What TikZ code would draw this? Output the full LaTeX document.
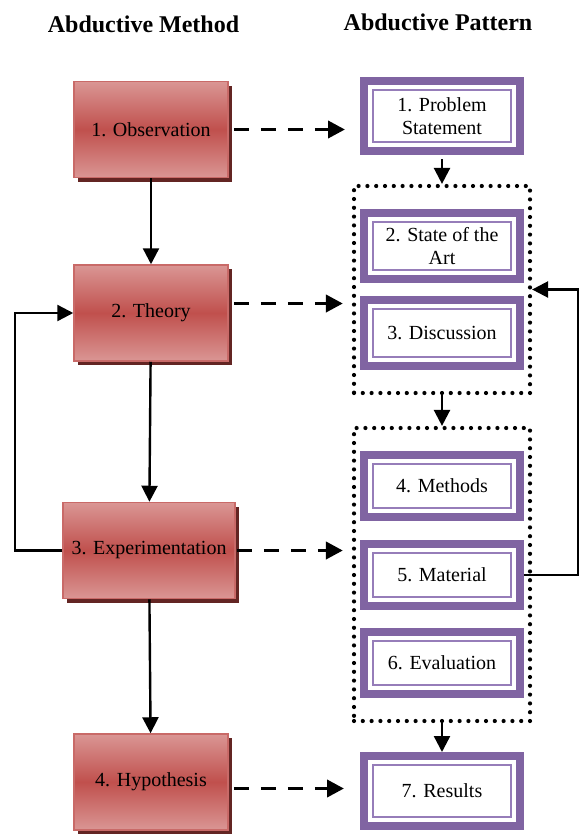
\documentclass[tikz,border=0pt]{standalone}
\usepackage{fontspec}
\setmainfont{Liberation Serif}
\usetikzlibrary{arrows.meta,fit,shadows}

\definecolor  {methodColor}{RGB}{192,  80,  77}
\definecolor  {methodLight}{RGB}{218, 150, 148}
\definecolor  {shadowColor}{RGB}{ 99,  37,  35}
\definecolor {patternColor}{RGB}{128, 100, 162}
\definecolor {patternLight}{RGB}{150, 125, 185}

\begin{document}
\begin{tikzpicture}[
  x=1pt, y=-1pt,
  box text/.style      ={font=\fontsize{20}{23}\selectfont},
  title text/.style    ={font=\bfseries\fontsize{24}{28}\selectfont},
  method box/.style    ={box text, draw=methodColor!85!white, line width=1.5pt,
                         top color=methodLight, bottom color=methodLight, middle color=methodColor,
                         minimum width=154pt, minimum height=96pt, inner sep=0pt,
                         drop shadow={shadow xshift=4pt, shadow yshift=-4pt, fill=shadowColor, opacity=1}},
  pattern box/.style   ={box text, draw=patternColor, line width=8pt, fill=white, align=center,
                         minimum width=156pt, inner sep=0pt,
                         path picture={\draw[patternLight, line width=2pt]
                           ([shift={(9pt,-9pt)}]path picture bounding box.north west) rectangle
                           ([shift={(-9pt,9pt)}]path picture bounding box.south east);}},
  pattern group/.style ={draw, line width=4.2pt, dash pattern=on 0pt off 8.8pt, line cap=round,
                         inner xsep=6pt, inner ysep=23pt},
  flow arrow/.style    ={line width=2.4pt, -{Triangle[length=16pt, width=16pt]}},
  flow dashed/.style   ={line width=3.8pt, dash pattern=on 15pt off 12pt, -{Triangle[length=17pt, width=17pt]}},
]
\useasboundingbox (0,0) rectangle (585,838);

%% titles
\node[title text] (methodTitle)  at (143.5,24) {Abductive Method};
\node[title text] (patternTitle) at (438,22)   {Abductive Pattern};

%% abductive method
\node[method box]                    (obs)    at (151,129.5) {1. Observation};
\node[method box]                    (theory) at (151,313)   {2. Theory};
\node[method box, minimum width=172] (exp)    at (149,550.5) {3. Experimentation};
\node[method box]                    (hyp)    at (151,782)   {4. Hypothesis};

%% abductive pattern
\node[pattern box, minimum height=70pt] (problem)    at (442,116) {1. Problem\\Statement};
\node[pattern box, minimum height=66pt] (state)      at (442,246) {2. State of the\\Art};
\node[pattern box, minimum height=66pt] (discussion) at (442,333) {3. Discussion};
\node[pattern box, minimum height=62pt] (methods)    at (442,486) {4. Methods};
\node[pattern box, minimum height=62pt] (material)   at (442,575) {5. Material};
\node[pattern box, minimum height=62pt] (evaluation) at (442,663) {6. Evaluation};
\node[pattern box, minimum height=70pt] (results)    at (442,791) {7. Results};

\node[pattern group, fit=(state)(discussion)]            (groupA) {};
\node[pattern group, fit=(methods)(material)(evaluation)] (groupB) {};

%% method flow
\draw[flow arrow] (obs) -- (theory);
\draw[flow arrow] (theory) -- (exp);
\draw[flow arrow] (exp) -- (hyp);
\draw[flow arrow] (exp.west) -- ++(-47,0) |- (theory.west);

%% pattern flow
\draw[flow arrow, shorten <=4pt] (problem) -- (groupA);
\draw[flow arrow] (groupA) -- (groupB);
\draw[flow arrow] (groupB) -- (results);
\draw[flow arrow] (material.east) -- ++(54,0) |- (groupA.east);

%% method to pattern
\draw[flow dashed, shorten <=5pt, shorten >=15pt] (obs.east) -- (obs.east -| problem.west);
\draw[flow dashed, shorten <=5pt, shorten >=9pt] ([yshift=9.5pt]theory.east) -- ([yshift=9.5pt]theory.east -| groupA.west);
\draw[flow dashed, shorten <=1pt, shorten >=9pt] (exp.east) -- (exp.east -| groupB.west);
\draw[flow dashed, shorten <=5pt, shorten >=16pt] ([yshift=-6.5pt]hyp.east) -- ([yshift=-6.5pt]hyp.east -| results.west);

\end{tikzpicture}
\end{document}
